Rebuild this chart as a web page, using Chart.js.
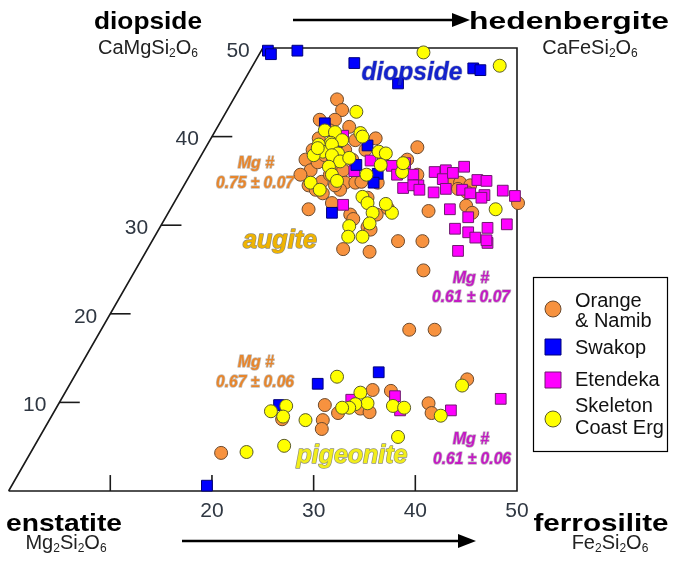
<!DOCTYPE html>
<html>
<head>
<meta charset="utf-8">
<script src="https://cdn.jsdelivr.net/npm/chart.js@4.4.0/dist/chart.umd.min.js"></script>
<style>
  body { margin: 0; background: #fff; }
  #wrap { width: 678px; height: 562px; }
</style>
</head>
<body>
<div id="wrap"><canvas id="chart" width="678" height="562"></canvas></div>
<script>
// x = Fs + Wo/2, y = Wo (mol %)
const orangeNamib = [
  [32.3,44.2],[32.8,43.0],[33.5,41.1],[32.1,41.9],[31.6,40.7],[30.5,39.8],[29.9,38.5],[30.6,38.7],
  [29.2,37.4],[29.7,36.2],[30.4,37.1],[30.8,34.9],[29.5,34.5],[30.2,34.0],[31.6,35.7],[32.3,36.6],
  [32.9,36.2],[33.1,34.8],[34.1,34.8],[34.7,34.9],[36.1,39.8],[35.1,38.5],[36.9,37.9],[34.1,39.6],
  [33.1,38.5],[31.1,37.9],[31.9,37.4],[33.8,37.4],[28.7,35.7],[32.6,34.0],[30.6,41.9],[40.2,38.8],
  [39.2,37.4],[40.2,35.7],[43.6,34.8],[44.4,34.8],[45.4,34.5],[44.2,34.1],[45.1,33.7],[45.0,32.2],
  [45.6,31.4],[41.3,31.6],[50.1,32.5],[38.3,28.2],[40.7,28.2],[40.8,24.9],[39.4,18.2],[41.9,18.2],
  [29.5,31.8],[30.9,33.6],[31.8,32.5],[33.6,31.2],[33.9,30.7],[35.3,29.8],[35.6,29.5],[36.2,31.2],
  [37.3,31.9],[32.9,27.3],[35.5,27.0],[32.1,34.5],[36.3,34.8],[35.3,33.1],
  [20.9,4.3],[26.9,8.1],[31.1,9.7],[30.9,8.0],[30.8,7.0],[32.4,8.8],[34.6,9.3],[35.5,8.9],
  [35.8,11.4],[37.6,11.3],[41.3,9.9],[41.6,8.8],[45.1,12.6]
];
const swakop = [
  [25.5,49.7],[25.8,49.3],[28.4,49.7],[34.0,48.3],[38.3,46.0],[45.7,47.7],[46.4,47.5],
  [31.1,41.5],[32.3,39.4],[35.3,39.0],[34.2,36.8],[36.3,35.8],[35.9,34.8],[31.8,31.4],
  [30.4,12.1],[36.4,13.4],[26.6,9.7],[19.5,0.6]
];
const etendeka = [
  [32.9,40.1],[35.6,37.3],[34.0,36.1],[36.8,37.4],[37.7,36.7],[38.2,35.7],[39.0,37.0],[39.8,35.7],
  [40.3,34.5],[38.8,34.2],[39.8,34.5],[40.4,34.0],[41.9,36.0],[41.8,33.7],[43.0,36.2],[42.7,35.2],
  [43.7,35.9],[44.8,36.6],[43.0,34.1],[44.6,34.0],[45.4,33.6],[46.1,35.1],[47.0,35.0],[46.8,33.4],
  [46.5,33.1],[48.6,33.9],[49.8,33.3],[43.4,31.8],[45.2,30.9],[43.9,29.6],[45.2,29.2],[45.9,28.6],
  [47.1,29.7],[47.1,28.0],[49.0,30.1],[44.2,27.1],[47.0,28.3],[32.9,32.3],
  [33.7,10.3],[38.0,10.7],[38.5,9.1],[43.5,9.1],[48.4,10.4]
];
const skeletonCoast = [
  [40.8,49.5],[48.3,48.0],[34.2,42.8],[31.1,40.7],[32.1,40.5],[31.7,39.3],[32.8,39.6],[34.6,40.4],
  [34.8,40.0],[30.5,39.1],[30.9,38.3],[31.8,39.1],[32.4,38.1],[31.8,37.9],[32.6,37.2],[33.5,37.6],
  [31.5,36.6],[31.8,35.7],[32.3,35.0],[29.7,34.8],[30.6,34.0],[35.2,35.7],[36.4,38.3],[37.1,38.1],
  [36.6,36.8],[38.7,36.0],[38.8,37.0],[30.0,37.9],[30.4,38.7],[37.7,31.4],[47.9,31.8],[34.8,33.2],
  [35.3,32.5],[35.8,31.4],[35.5,30.2],[33.5,29.9],[33.4,28.7],[34.8,28.7],[37.1,32.4],
  [25.8,9.0],[27.3,9.6],[27.0,8.4],[29.2,8.0],[23.4,4.4],[27.1,5.1],[32.3,12.9],[34.6,11.1],
  [35.3,9.9],[34.1,9.8],[33.5,9.4],[32.8,9.4],[37.8,9.6],[38.9,9.4],[42.5,8.5],[44.6,11.9],[38.3,6.1]
];

// quadrilateral outline and ticks
const frameX = [0, 50, 50, 25, 0];
const frameY = [0, 0, 50, 50, 0];
const sideTicks = [10, 20, 30, 40];
const baseTicks = [10, 20, 30, 40];
const sideLabels = ['10', '20', '30', '40', '50'];
const sideLabelVals = [10, 20, 30, 40, 50];
const baseLabels = ['20', '30', '40', '50'];
const baseLabelVals = [20, 30, 40, 50];

const legendNames = [['Orange', '& Namib'], ['Swakop'], ['Etendeka'], ['Skeleton', 'Coast Erg']];

const toPts = arr => arr.map(p => ({ x: p[0], y: p[1] }));

const datasets = [
  {
    label: 'Orange & Namib', data: toPts(orangeNamib), order: 4,
    pointStyle: 'circle', pointRadius: 6.5, backgroundColor: '#f7923f', borderColor: '#6b4a2e', borderWidth: 1
  },
  {
    label: 'Swakop', data: toPts(swakop), order: 2,
    pointStyle: 'rect', pointRadius: 7.6, backgroundColor: '#0000ff', borderColor: '#00007a', borderWidth: 1
  },
  {
    label: 'Etendeka', data: toPts(etendeka), order: 3,
    pointStyle: 'rect', pointRadius: 7.6, backgroundColor: '#ff00ff', borderColor: '#6e1a6e', borderWidth: 1
  },
  {
    label: 'Skeleton Coast Erg', data: toPts(skeletonCoast), order: 1,
    pointStyle: 'circle', pointRadius: 6.5, backgroundColor: '#ffff00', borderColor: '#5a5a2a', borderWidth: 1
  },
  {
    label: 'frame', data: frameX.map((x, i) => ({ x: x, y: frameY[i] })), order: 6,
    showLine: true, pointRadius: 0, borderColor: '#1a1a1a', borderWidth: 1.6, fill: false
  }
];
sideTicks.forEach(v => {
  datasets.push({
    label: 'tick', data: [{ x: v / 2, y: v }, { x: v / 2 + 2, y: v }], order: 5,
    showLine: true, pointRadius: 0, borderColor: '#1a1a1a', borderWidth: 1.6
  });
});
baseTicks.forEach(v => {
  datasets.push({
    label: 'tick', data: [{ x: v, y: 0 }, { x: v, y: 1.8 }], order: 5,
    showLine: true, pointRadius: 0, borderColor: '#1a1a1a', borderWidth: 1.6
  });
});
datasets.forEach(d => { d.clip = false; });

const FONT = 'Arial, "Liberation Sans", sans-serif';

function fitText(ctx, text, cx, y, width, font, fill, stroke, sw) {
  ctx.save();
  ctx.font = font;
  const w = ctx.measureText(text).width;
  const s = width ? width / w : 1;
  ctx.translate(cx, y);
  ctx.scale(s, 1);
  ctx.textAlign = 'center';
  ctx.textBaseline = 'alphabetic';
  if (stroke) {
    ctx.lineJoin = 'round';
    ctx.strokeStyle = stroke;
    ctx.lineWidth = sw || 2;
    ctx.strokeText(text, 0, 0);
  }
  ctx.fillStyle = fill;
  ctx.fillText(text, 0, 0);
  ctx.restore();
}

function formula(ctx, str, cx, y, size) {
  const parts = [];
  for (let i = 0; i < str.length; i++) {
    if (str[i] === '_') { parts.push([str[i + 1], true]); i++; }
    else parts.push([str[i], false]);
  }
  const big = size + 'px ' + FONT, small = Math.round(size * 0.58) + 'px ' + FONT;
  let total = 0;
  parts.forEach(p => { ctx.font = p[1] ? small : big; total += ctx.measureText(p[0]).width; });
  let x = cx - total / 2;
  ctx.fillStyle = '#222';
  ctx.textAlign = 'left';
  ctx.textBaseline = 'alphabetic';
  parts.forEach(p => {
    ctx.font = p[1] ? small : big;
    ctx.fillText(p[0], x, p[1] ? y + 3 : y);
    x += ctx.measureText(p[0]).width;
  });
}

function arrow(ctx, x1, x2, y) {
  ctx.save();
  ctx.strokeStyle = '#000';
  ctx.fillStyle = '#000';
  ctx.lineWidth = 2.6;
  ctx.beginPath();
  ctx.moveTo(x1, y);
  ctx.lineTo(x2 - 14, y);
  ctx.stroke();
  ctx.beginPath();
  ctx.moveTo(x2, y);
  ctx.lineTo(x2 - 18, y - 7);
  ctx.lineTo(x2 - 18, y + 7);
  ctx.closePath();
  ctx.fill();
  ctx.restore();
}

const decor = {
  id: 'decor',
  afterDraw(chart) {
    const ctx = chart.ctx;
    const xs = chart.scales.x, ys = chart.scales.y;
    ctx.save();

    // tick labels
    ctx.font = '21px ' + FONT;
    ctx.fillStyle = '#2f3742';
    ctx.textBaseline = 'middle';
    ctx.textAlign = 'right';
    sideLabelVals.forEach((v, i) => {
      ctx.fillText(sideLabels[i], xs.getPixelForValue(v / 2) - 13, ys.getPixelForValue(v) + 3);
    });
    ctx.textAlign = 'center';
    baseLabelVals.forEach((v, i) => {
      ctx.fillText(baseLabels[i], xs.getPixelForValue(v), ys.getPixelForValue(0) + 20);
    });

    // end-member names
    const bold = 'bold 24px ' + FONT;
    fitText(ctx, 'diopside', 148, 29, 108, bold, '#000');
    fitText(ctx, 'hedenbergite', 569, 29, 200, bold, '#000');
    fitText(ctx, 'enstatite', 64, 531, 116, bold, '#000');
    fitText(ctx, 'ferrosilite', 601, 531, 135, bold, '#000');
    formula(ctx, 'CaMgSi_2O_6', 148, 54, 20);
    formula(ctx, 'CaFeSi_2O_6', 590, 54, 20);
    formula(ctx, 'Mg_2Si_2O_6', 66, 549, 20);
    formula(ctx, 'Fe_2Si_2O_6', 610, 549, 20);
    arrow(ctx, 293, 470, 20);
    arrow(ctx, 182, 476, 541);

    // field names
    const fld = 'italic bold 25px ' + FONT;
    fitText(ctx, 'diopside', 412, 80, 101, fld, '#1423cc', 'rgba(20,20,80,0.35)', 1.2);
    fitText(ctx, 'augite', 280, 248, 74, fld, '#f0b400', 'rgba(70,60,30,0.6)', 1.4);
    fitText(ctx, 'pigeonite', 352, 463, 111, fld, '#f2ee1a', 'rgba(70,70,30,0.6)', 1.4);

    // Mg# labels
    const mg = 'italic bold 16px ' + FONT;
    const orangeTxt = '#e8862c', magTxt = '#c41ac4';
    const oS = 'rgba(90,70,50,0.35)', mS = 'rgba(80,30,80,0.35)';
    fitText(ctx, 'Mg #', 256, 168, 0, mg, orangeTxt, oS, 1.5);
    fitText(ctx, '0.75 \u00b1 0.07', 255, 188, 78, mg, orangeTxt, oS, 1.5);
    fitText(ctx, 'Mg #', 256, 367, 0, mg, orangeTxt, oS, 1.5);
    fitText(ctx, '0.67 \u00b1 0.06', 255, 387, 78, mg, orangeTxt, oS, 1.5);
    fitText(ctx, 'Mg #', 471, 283, 0, mg, magTxt, mS, 1.5);
    fitText(ctx, '0.61 \u00b1 0.07', 471, 302, 78, mg, magTxt, mS, 1.5);
    fitText(ctx, 'Mg #', 471, 444, 0, mg, magTxt, mS, 1.5);
    fitText(ctx, '0.61 \u00b1 0.06', 472, 464, 78, mg, magTxt, mS, 1.5);

    // legend
    ctx.strokeStyle = '#000';
    ctx.lineWidth = 1.2;
    ctx.strokeRect(533.5, 277.5, 134, 174);
    const markY = [309, 347, 380, 419];
    const textY = [[307, 327], [354], [386], [412, 434]];
    ctx.font = '20px ' + FONT;
    ctx.textAlign = 'left';
    ctx.textBaseline = 'alphabetic';
    legendNames.forEach((names, i) => {
      const ds = chart.data.datasets[i];
      ctx.fillStyle = ds.backgroundColor;
      ctx.strokeStyle = ds.borderColor;
      ctx.lineWidth = 1;
      ctx.beginPath();
      if (ds.pointStyle === 'circle') ctx.arc(553, markY[i], 8, 0, Math.PI * 2);
      else ctx.rect(545, markY[i] - 8, 16, 16);
      ctx.fill();
      ctx.stroke();
      ctx.fillStyle = '#111';
      names.forEach((n, j) => ctx.fillText(n, 575, textY[i][j]));
    });
    ctx.restore();
  }
};

new Chart(document.getElementById('chart'), {
  type: 'scatter',
  data: { datasets: datasets },
  options: {
    responsive: false,
    animation: false,
    devicePixelRatio: 1,
    layout: { padding: { left: 8, right: 161, top: 48, bottom: 71 } },
    scales: {
      x: { type: 'linear', min: 0, max: 50, display: false },
      y: { type: 'linear', min: 0, max: 50, display: false }
    },
    plugins: { legend: { display: false }, tooltip: { enabled: false } }
  },
  plugins: [decor]
});
</script>
</body>
</html>
